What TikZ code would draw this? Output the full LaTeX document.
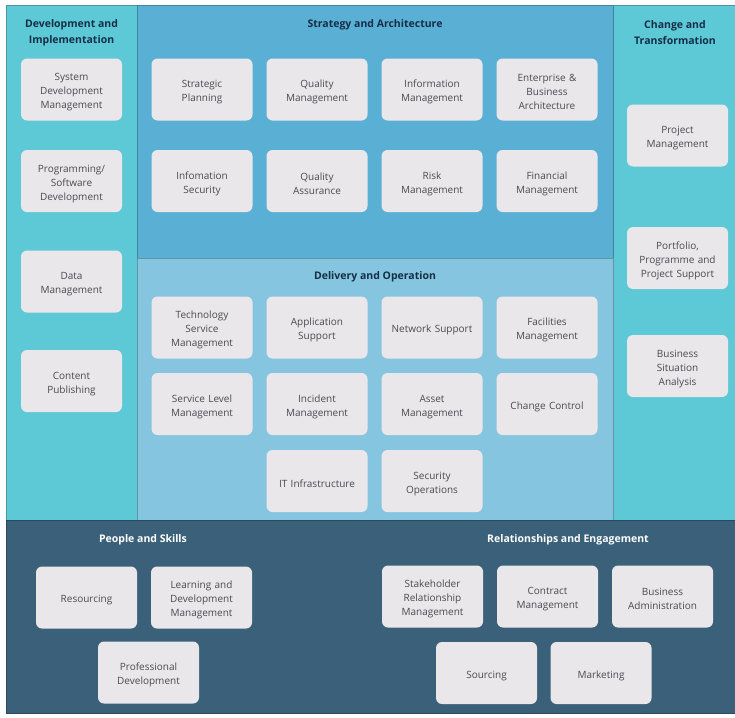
\documentclass[tikz,border=0pt]{standalone}
\usepackage{fontspec}
\setmainfont{Open Sans}
\usepackage{tikz}
\definecolor{devcyan}{RGB}{93,201,215}
\definecolor{stratblue}{RGB}{90,175,213}
\definecolor{delivblue}{RGB}{134,197,223}
\definecolor{peopleslate}{RGB}{59,96,121}
\definecolor{boxgrey}{RGB}{234,231,235}
\definecolor{titlenavy}{RGB}{21,46,70}
\definecolor{boxtext}{RGB}{74,74,80}

\begin{document}
\begin{tikzpicture}[
            x=1pt, y=1pt,
                base/.style = {rectangle, rounded corners=6pt, fill=boxgrey,
                            minimum width=101pt, minimum height=62pt, inner sep=0pt,
                            text width=99pt, align=center, text=boxtext,
                            font=\fontsize{10}{14}\selectfont, text height=13pt},
                skill/.style = {base},
                areaTitle/.style = {align=center, text=titlenavy,
                            font=\fontsize{10.5}{16}\selectfont\bfseries},
                areaTitleLight/.style = {areaTitle, text=white},
                panel/.style = {line width=0.7pt},
            node distance=115pt]
            \fill[white] (0,0) rectangle (735,-717);
            \useasboundingbox (0,0) rectangle (735,-717);

            % panels
            \filldraw[panel, fill=devcyan, draw=devcyan!75!black] (6,-5) rectangle (137,-520);
            \filldraw[panel, fill=devcyan, draw=devcyan!75!black] (613,-5) rectangle (735,-520);
            \filldraw[panel, fill=stratblue, draw=stratblue!75!black] (137,-5) rectangle (613,-258);
            \filldraw[panel, fill=delivblue, draw=delivblue!75!black] (137,-258) rectangle (613,-520);
            \filldraw[panel, fill=peopleslate, draw=peopleslate!75!black] (6,-520) rectangle (735,-713);

            % titles
            \node (devTitle) [areaTitle] at (71.5,-33) {Development and\\Implementation};
            \node (strategyTitle) [areaTitle] at (375,-25) {Strategy and Architecture};
            \node (deliveryTitle) [areaTitle] at (375,-277) {Delivery and Operation};
            \node (changeTitle) [areaTitle] at (675,-33) {Change and\\Transformation};
            \node (peopleTitle) [areaTitleLight] at (143,-540) {People and Skills};
            \node (relationTitle) [areaTitleLight] at (568,-540) {Relationships and Engagement};

            % development and implementation
            \node (sysDev) [skill] at (71.5,-89.5) {System\\Development\\Management};
            \node (programming) [skill, below of=sysDev, node distance=91.5pt] {Programming/\\Software\\Development};
            \node (dataMgmt) [skill, below of=programming, node distance=100.5pt] {Data\\Management};
            \node (contentPub) [skill, below of=dataMgmt, node distance=99.5pt] {Content\\Publishing};

            % strategy and architecture
            \node (strategicPlanning) [skill] at (202,-89.5) {Strategic\\Planning};
            \node (qualityMgmt) [skill, right of=strategicPlanning] {Quality\\Management};
            \node (infoMgmt) [skill, right of=qualityMgmt] {Information\\Management};
            \node (enterpriseArch) [skill, right of=infoMgmt] {Enterprise \&\\Business\\Architecture};
            \node (infoSecurity) [skill, below of=strategicPlanning, node distance=91.5pt] {Infomation\\Security};
            \node (qualityAssurance) [skill, right of=infoSecurity] {Quality\\Assurance};
            \node (riskMgmt) [skill, right of=qualityAssurance] {Risk\\Management};
            \node (financialMgmt) [skill, right of=riskMgmt] {Financial\\Management};

            % delivery and operation
            \node (techService) [skill] at (202,-327.5) {Technology\\Service\\Management};
            \node (appSupport) [skill, right of=techService] {Application\\Support};
            \node (networkSupport) [skill, right of=appSupport] {Network Support};
            \node (facilitiesMgmt) [skill, right of=networkSupport] {Facilities\\Management};
            \node (serviceLevel) [skill, below of=techService, node distance=76.5pt] {Service Level\\Management};
            \node (incidentMgmt) [skill, right of=serviceLevel] {Incident\\Management};
            \node (assetMgmt) [skill, right of=incidentMgmt] {Asset\\Management};
            \node (changeControl) [skill, right of=assetMgmt] {Change Control};
            \node (itInfra) [skill, below of=incidentMgmt, node distance=77pt] {IT Infrastructure};
            \node (securityOps) [skill, right of=itInfra] {Security\\Operations};

            % change and transformation
            \node (projectMgmt) [skill] at (677.5,-135.5) {Project\\Management};
            \node (portfolioSupport) [skill, below of=projectMgmt, node distance=122.5pt] {Portfolio,\\Programme and\\Project Support};
            \node (businessSituation) [skill, below of=portfolioSupport, node distance=108pt] {Business\\Situation\\Analysis};

            % people and skills
            \node (resourcing) [skill] at (86.5,-597.5) {Resourcing};
            \node (learningDev) [skill, right of=resourcing] {Learning and\\Development\\Management};
            \node (professionalDev) [skill, below of=resourcing, node distance=75pt, xshift=62pt] {Professional\\Development};

            % relationships and engagement
            \node (stakeholder) [skill] at (432.5,-596.5) {Stakeholder\\Relationship\\Management};
            \node (contractMgmt) [skill, right of=stakeholder] {Contract\\Management};
            \node (businessAdmin) [skill, right of=contractMgmt] {Business\\Administration};
            \node (sourcing) [skill, below of=stakeholder, node distance=76.5pt, xshift=54pt] {Sourcing};
            \node (marketing) [skill, right of=sourcing, node distance=114.5pt] {Marketing};
        \end{tikzpicture}
\end{document}
